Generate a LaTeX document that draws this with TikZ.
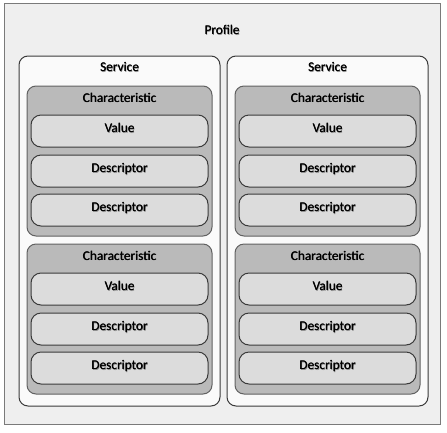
\documentclass[tikz,border=0pt]{standalone}
\usepackage{fontspec}
\setmainfont{Carlito}
\definecolor{profilefill}{HTML}{EFEFEF}
\definecolor{profileline}{HTML}{7A7A7A}
\definecolor{svcfill}{HTML}{FAFAFA}
\definecolor{charfill}{HTML}{BABABA}
\definecolor{itemfill}{HTML}{DCDCDC}
\definecolor{darkline}{HTML}{3A3A3A}
\newcommand\shtxt[1]{\rlap{\hspace{0.7pt}\raisebox{-0.8pt}{\color{black!45}#1}}\rlap{\hspace{0.3pt}#1}#1}
\begin{document}
\begin{tikzpicture}[x=1pt,y=-1pt,
  every node/.style={font=\fontsize{13.3}{15}\selectfont, text=black, inner sep=0pt},
  profilebox/.style={draw=profileline, fill=profilefill, line width=1pt},
  svcbox/.style={draw=darkline, fill=svcfill, line width=1pt, rounded corners=9pt},
  charbox/.style={draw=darkline!80, fill=charfill, line width=1pt, rounded corners=9pt},
  itembox/.style={draw=darkline, fill=itemfill, line width=1pt, rounded corners=10pt, minimum width=177pt, minimum height=32pt, text height=9pt, text depth=6pt},
  lbl/.style={text height=9pt, text depth=2pt}
]
\useasboundingbox (0,0) rectangle (447,432);
\node[profilebox, minimum width=436pt, minimum height=421pt] (profile) at (222,213.5) {};
\node[lbl] (profilelbl) at (222,31) {\shtxt{Profile}};
\foreach \c/\dx in {L/0,R/208}{
  \begin{scope}[xshift=\dx pt]
  \node[svcbox, minimum width=201pt, minimum height=350pt] (svc\c) at (119.5,231) {};
  \node[lbl] (svclbl\c) at (119.5,68) {\shtxt{Service}};
  \foreach \k/\ty in {1/0,2/158}{
    \begin{scope}[yshift=-\ty pt]
    \node[charbox, minimum width=185pt, minimum height=150pt] (char\c\k) at (119.5,161) {};
    \node[lbl] (charlbl\c\k) at (119.5,98.5) {\shtxt{Characteristic}};
    \node[itembox] (val\c\k) at (119.5,131) {\shtxt{Value}};
    \node[itembox] (descA\c\k) at (119.5,171) {\shtxt{Descriptor}};
    \node[itembox] (descB\c\k) at (119.5,210) {\shtxt{Descriptor}};
    \end{scope}
  }
  \end{scope}
}
\end{tikzpicture}
\end{document}
